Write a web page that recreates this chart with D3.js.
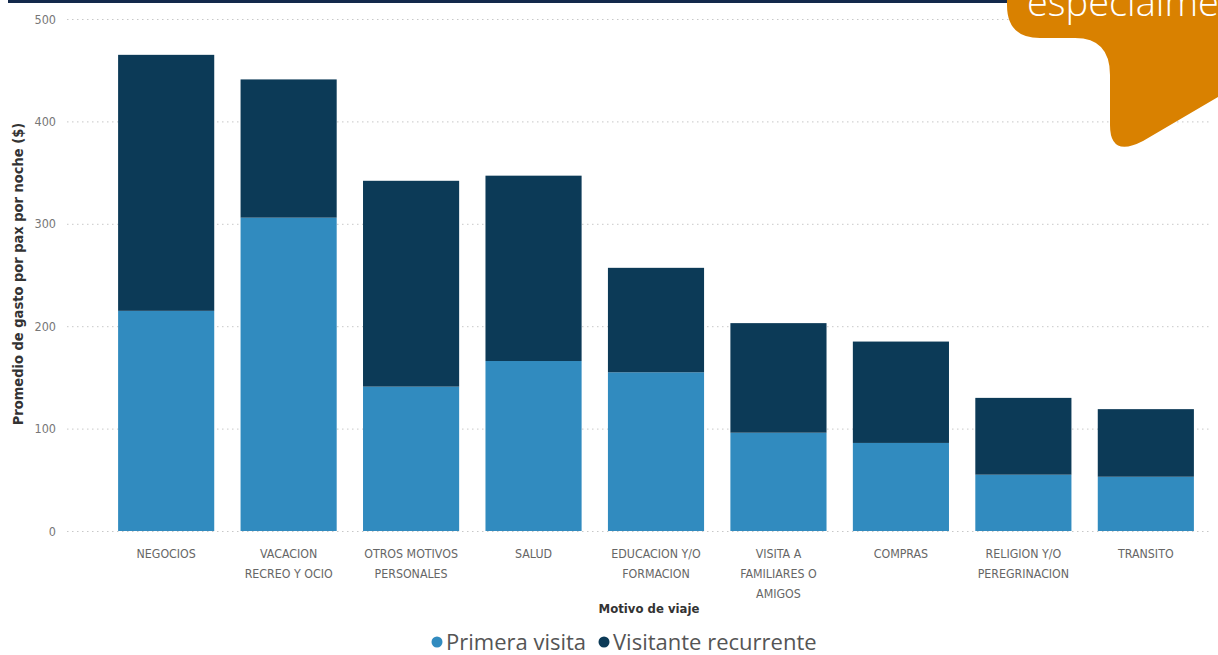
<!DOCTYPE html>
<html><head><meta charset="utf-8">
<script src="https://cdn.jsdelivr.net/npm/d3@7/dist/d3.min.js"></script>
<style>body{margin:0;background:#fff;}svg{display:block;}</style>
</head><body>
<svg id="c" width="1218" height="655"></svg>
<script>
const categories = [
  ["NEGOCIOS"],
  ["VACACION","RECREO Y OCIO"],
  ["OTROS MOTIVOS","PERSONALES"],
  ["SALUD"],
  ["EDUCACION Y/O","FORMACION"],
  ["VISITA A","FAMILIARES O","AMIGOS"],
  ["COMPRAS"],
  ["RELIGION Y/O","PEREGRINACION"],
  ["TRANSITO"]
];
const primeraVisita = [215, 306, 141, 166, 155, 96, 86, 55, 53];
const visitanteRecurrente = [250, 135, 201, 181, 102, 107, 99, 75, 66];
const yTicks = [0, 100, 200, 300, 400, 500];
const seriesNames = ["Primera visita", "Visitante recurrente"];
const colors = ["#318bbf", "#0c3a57"];

const svg = d3.select("#c");
const x = d3.scaleBand().domain(d3.range(categories.length)).range([105, 1207]).paddingInner(0.215).paddingOuter(0.107);
const y = d3.scaleLinear().domain([0, 500]).range([531, 19]);
const cond = "'DejaVu Sans Condensed', 'DejaVu Sans', sans-serif";

// top banner line
svg.append("rect").attr("x", 8).attr("y", 0).attr("width", 1010).attr("height", 3).attr("fill", "#13294b");

// y axis + gridlines
const yAxis = d3.axisLeft(y).tickValues(yTicks).tickSize(0).tickPadding(0);
const gy = svg.append("g").attr("transform", "translate(56,0)").call(yAxis);
gy.select(".domain").remove();
gy.selectAll("text").attr("fill", "#777").attr("font-family", cond).attr("font-size", 12.5);
svg.append("g").selectAll("line").data(yTicks).join("line")
  .attr("x1", 67).attr("x2", 1212).attr("y1", d => y(d) + 0.5).attr("y2", d => y(d) + 0.5)
  .attr("stroke", "#c8c8c8").attr("stroke-width", 1).attr("stroke-dasharray", "1.5,3.5");

// stacked bars
const rows = categories.map((c, i) => ({i, p: primeraVisita[i], r: visitanteRecurrente[i]}));
const stack = d3.stack().keys(["p", "r"])(rows);
svg.append("g").selectAll("g").data(stack).join("g").attr("fill", (d, k) => colors[k])
  .selectAll("rect").data(d => d).join("rect")
  .attr("x", d => x(d.data.i)).attr("width", x.bandwidth())
  .attr("y", d => y(d[1])).attr("height", d => y(d[0]) - y(d[1]));

// x labels
const xAxis = d3.axisBottom(x).tickSize(0).tickFormat("");
const gx = svg.append("g").attr("transform", "translate(0,531)").call(xAxis);
gx.select(".domain").remove();
gx.selectAll(".tick").each(function(d) {
  const t = d3.select(this).append("text").attr("fill", "#666").attr("text-anchor", "middle")
    .attr("font-family", cond).attr("font-size", 12.3);
  categories[d].forEach((line, j) => t.append("tspan").attr("x", 0).attr("y", 27 + j * 20).text(line));
});

// axis titles
svg.append("text").attr("x", 649).attr("y", 613).attr("text-anchor", "middle")
  .attr("font-family", cond).attr("font-weight", "bold")
  .attr("font-size", 13).attr("fill", "#333").text("Motivo de viaje");
svg.append("text").attr("transform", "translate(23,274) rotate(-90)").attr("text-anchor", "middle")
  .attr("font-family", cond).attr("font-weight", "bold")
  .attr("font-size", 14.5).attr("fill", "#333").text("Promedio de gasto por pax por noche ($)");

// legend
const leg = svg.append("g").attr("font-family", "'Open Sans', 'Noto Sans', sans-serif").attr("font-size", 22).attr("fill", "#555");
const legX = [437, 604];
seriesNames.forEach((n, k) => {
  leg.append("circle").attr("cx", legX[k]).attr("cy", 642).attr("r", 5.5).attr("fill", colors[k]);
  leg.append("text").attr("x", legX[k] + 9).attr("y", 650).text(n);
});

// decorative orange tag
svg.append("path")
  .attr("d", "M1007,0 H1218 V97 L1143,141 Q1110,158 1110,125 V75 Q1110,38 1075,38 H1040 Q1007,38 1007,5 Z")
  .attr("fill", "#d98100");
svg.append("text").attr("x", 1027).attr("y", 16).attr("fill", "#fff")
  .attr("font-family", "'Open Sans', sans-serif").attr("font-weight", 300).attr("font-size", 38).text("especialme");
</script>
</body></html>
